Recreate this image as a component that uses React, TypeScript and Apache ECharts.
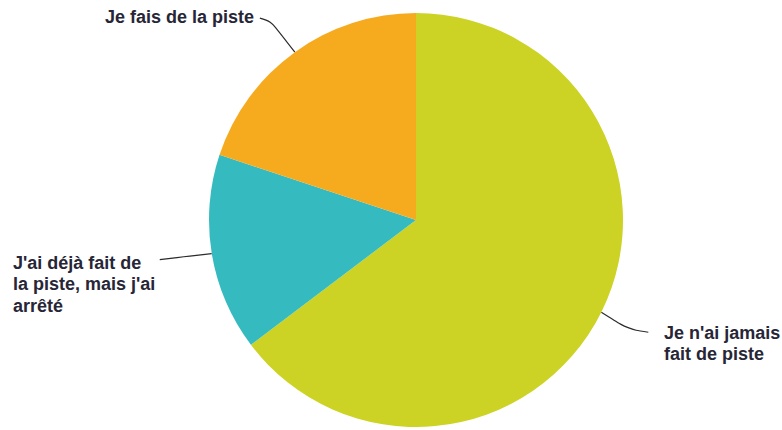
import React, { useEffect, useRef } from "react";
import * as echarts from "echarts";

const categories = [
  "Je n'ai jamais\nfait de piste",
  "J'ai déjà fait de\nla piste, mais j'ai\narrêté",
  "Je fais de la piste",
];
const values = [64.7, 15.4, 19.9];
const colors = ["#CCD324", "#35BBBF", "#F6AB1F"];

// label placement (layout only): left, top of text block, and line bend offsets
const labelPos = [
  { x: 664, y: 322, mid: [27, 17], end: [47, 20] },
  { x: 13, y: 252, mid: [-28, 3], end: [-52, 6] },
  { x: 105, y: 6, mid: [-24, -31], end: [-35, -34] },
];

export default function App() {
  const ref = useRef<HTMLDivElement>(null);
  useEffect(() => {
    document.body.style.margin = "0";
    const chart = echarts.init(ref.current!, undefined, { renderer: "svg" });
    chart.setOption({
      animation: false,
      backgroundColor: "#ffffff",
      series: [
        {
          type: "pie",
          center: [416, 220],
          radius: 207,
          startAngle: 90,
          clockwise: true,
          data: categories.map((name, i) => ({
            name,
            value: values[i],
            itemStyle: { color: colors[i] },
          })),
          label: {
            show: true,
            formatter: "{b}",
            fontFamily: "'Liberation Sans', Arial, sans-serif",
            fontWeight: "bold",
            fontSize: 18,
            lineHeight: 21.5,
            color: "#272636",
          },
          labelLine: {
            show: true,
            smooth: 0.35,
            lineStyle: { color: "#2b2b2b", width: 1.2 },
          },
          labelLayout: (params: any) => {
            const p = labelPos[params.dataIndex];
            const a = params.labelLinePoints
              ? params.labelLinePoints[0]
              : [0, 0];
            return {
              x: p.x,
              y: p.y,
              align: "left",
              verticalAlign: "top",
              labelLinePoints: [
                [a[0], a[1]],
                [a[0] + p.mid[0], a[1] + p.mid[1]],
                [a[0] + p.end[0], a[1] + p.end[1]],
              ],
            };
          },
        },
      ],
    });
    return () => chart.dispose();
  }, []);
  return (
    <div
      ref={ref}
      style={{ position: "fixed", left: 0, top: 0, width: 782, height: 430 }}
    />
  );
}
